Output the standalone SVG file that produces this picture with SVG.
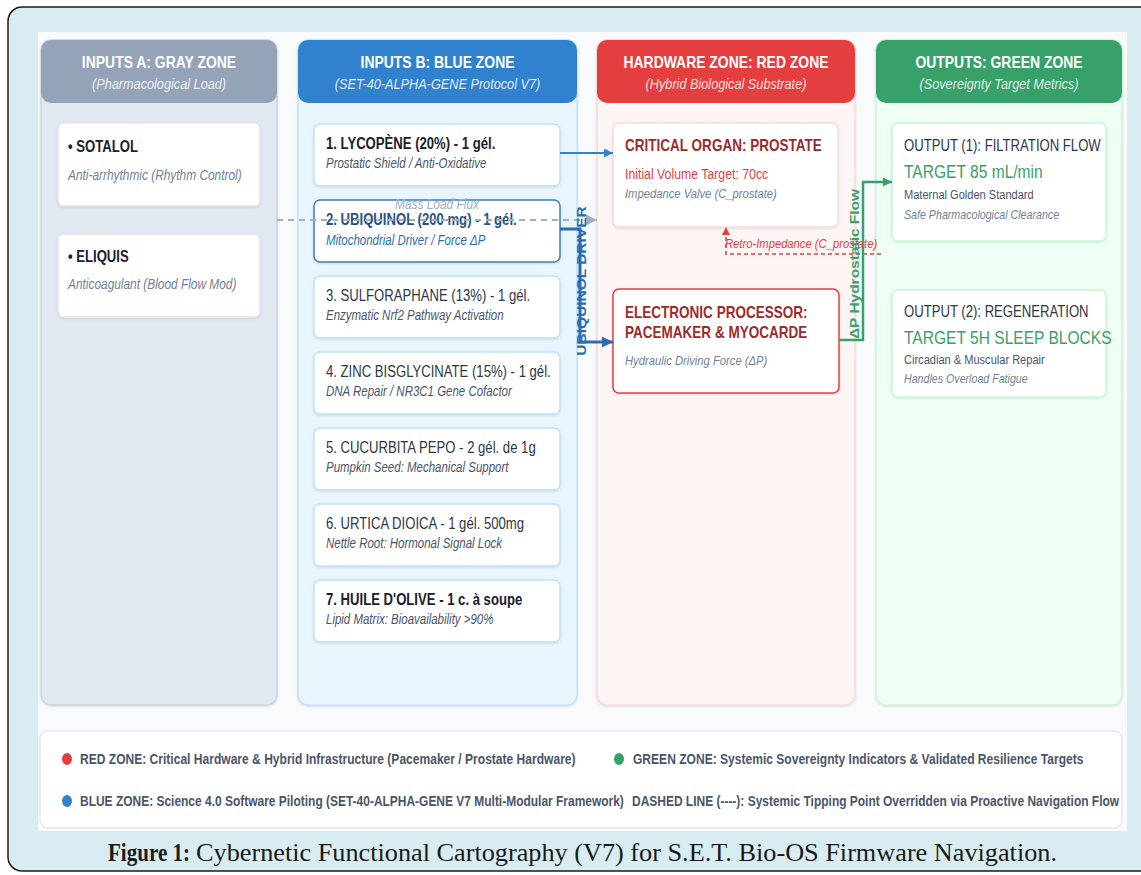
<svg xmlns="http://www.w3.org/2000/svg" width="1141" height="875" viewBox="0 0 1141 875">
<defs>
<style>
text { font-family: "Liberation Sans", Arial, Helvetica, sans-serif; }
.hd { font-weight: bold; font-size: 17px; fill: #ffffff; text-anchor: middle; }
.hs { font-style: italic; font-size: 15.5px; fill: #ffffff; fill-opacity: 0.85; text-anchor: middle; }
.tb { font-weight: bold; font-size: 16px; fill: #1a202c; }
.tr { font-size: 16px; fill: #2d3748; }
.sub { font-style: italic; font-size: 14px; fill: #4a5568; }
.gsub { font-style: italic; font-size: 14.5px; fill: #718096; }
.node { fill: #ffffff; stroke-width: 1.5; }
.rt { font-weight: bold; font-size: 16.5px; fill: #9b2c2c; }
.rdet { font-style: italic; font-size: 13.7px; fill: #718096; }
.gt { font-size: 16px; fill: #2d3748; }
.gbig { font-size: 19px; fill: #38a169; }
.gd { font-size: 13.5px; fill: #4a5568; }
.gi { font-style: italic; font-size: 13px; fill: #718096; }
.leg { font-weight: bold; font-size: 14.7px; fill: #4a5568; }
.cap { font-family: "Liberation Serif", "Times New Roman", serif; font-size: 25px; fill: #1a1a1a; }
</style>
<filter id="sh" x="-5%" y="-5%" width="110%" height="115%">
<feDropShadow dx="0" dy="1" stdDeviation="1" flood-color="#000" flood-opacity="0.12"/>
</filter>
<marker id="aBlue" viewBox="0 0 10 10" refX="10" refY="5" markerWidth="9" markerHeight="9" markerUnits="userSpaceOnUse" orient="auto"><path d="M0,0 L10,5 L0,10 z" fill="#3182ce"/></marker>
<marker id="aBlue2" viewBox="0 0 10 10" refX="10" refY="5" markerWidth="11" markerHeight="11" markerUnits="userSpaceOnUse" orient="auto"><path d="M0,0 L10,5 L0,10 z" fill="#2b6cb0"/></marker>
<marker id="aGray" viewBox="0 0 10 10" refX="10" refY="5" markerWidth="11" markerHeight="12" markerUnits="userSpaceOnUse" orient="auto"><path d="M0,0 L10,5 L0,10 z" fill="#a0aec0"/></marker>
<marker id="aRed" viewBox="0 0 10 10" refX="10" refY="5" markerWidth="8" markerHeight="8" markerUnits="userSpaceOnUse" orient="auto"><path d="M0,0 L10,5 L0,10 z" fill="#e53e3e"/></marker>
<marker id="aGreen" viewBox="0 0 10 10" refX="10" refY="5" markerWidth="9" markerHeight="9" markerUnits="userSpaceOnUse" orient="auto"><path d="M0,0 L10,5 L0,10 z" fill="#38a169"/></marker>
</defs>

<!-- outer frame -->
<rect x="8" y="7" width="1150" height="864" rx="14" fill="#d8ecf1" stroke="#1a1a1a" stroke-width="1.5"/>
<rect x="38" y="32" width="1089" height="799" fill="#f8fafc"/>

<!-- columns -->
<g id="zone-gray">
<rect x="41" y="40" width="236" height="665" rx="10" fill="#e2e8f0" stroke="#cbd5e0" stroke-width="1.5" filter="url(#sh)"/>
<rect x="41" y="40" width="236" height="63" rx="10" fill="#94a3b8"/>
<text class="hd" transform="translate(159,68) scale(0.82,1)">INPUTS A: GRAY ZONE</text>
<text class="hs" transform="translate(159,89) scale(0.82,1)">(Pharmacological Load)</text>
</g>
<g id="zone-blue">
<rect x="298" y="40" width="279" height="665" rx="10" fill="#e9f5fd" stroke="#bee3f8" stroke-width="1.5" filter="url(#sh)"/>
<rect x="298" y="40" width="279" height="63" rx="10" fill="#3182ce"/>
<text class="hd" transform="translate(437.5,68) scale(0.82,1)">INPUTS B: BLUE ZONE</text>
<text class="hs" transform="translate(437.5,89) scale(0.82,1)">(SET-40-ALPHA-GENE Protocol V7)</text>
</g>
<g id="zone-red">
<rect x="597" y="40" width="258" height="665" rx="10" fill="#fff5f5" stroke="#fed7d7" stroke-width="1.5" filter="url(#sh)"/>
<rect x="597" y="40" width="258" height="63" rx="10" fill="#e53e3e"/>
<text class="hd" transform="translate(726,68) scale(0.82,1)">HARDWARE ZONE: RED ZONE</text>
<text class="hs" transform="translate(726,89) scale(0.82,1)">(Hybrid Biological Substrate)</text>
</g>
<g id="zone-green">
<rect x="876" y="40" width="246" height="665" rx="10" fill="#f0fff4" stroke="#c6f6d5" stroke-width="1.5" filter="url(#sh)"/>
<rect x="876" y="40" width="246" height="63" rx="10" fill="#38a169"/>
<text class="hd" transform="translate(999,68) scale(0.82,1)">OUTPUTS: GREEN ZONE</text>
<text class="hs" transform="translate(999,89) scale(0.82,1)">(Sovereignty Target Metrics)</text>
</g>

<!-- gray nodes -->
<g id="sotalol">
<rect class="node" x="58" y="123" width="202" height="83" rx="6" stroke="#e2e8f0" filter="url(#sh)"/>
<text class="tb" transform="translate(68,152) scale(0.82,1)">• SOTALOL</text>
<text class="gsub" transform="translate(68,180) scale(0.82,1)">Anti-arrhythmic (Rhythm Control)</text>
</g>
<g id="eliquis">
<rect class="node" x="58" y="234" width="202" height="83" rx="6" stroke="#e2e8f0" filter="url(#sh)"/>
<text class="tb" transform="translate(68,262) scale(0.82,1)">• ELIQUIS</text>
<text class="gsub" transform="translate(68,289) scale(0.82,1)">Anticoagulant (Blood Flow Mod)</text>
</g>

<!-- blue nodes -->
<g id="lycopene">
<rect class="node" x="314" y="124" width="246" height="62" rx="6" stroke="#bee3f8" filter="url(#sh)"/>
<text class="tb" transform="translate(326,149) scale(0.82,1)">1. LYCOPÈNE (20%) - 1 gél.</text>
<text class="sub" transform="translate(326,168) scale(0.82,1)">Prostatic Shield / Anti-Oxidative</text>
</g>
<g id="ubiquinol">
<rect class="node" x="314" y="200" width="246" height="62" rx="6" stroke="#3b7fc4" stroke-width="2" filter="url(#sh)"/>
<text class="tb" style="fill:#2c5282" transform="translate(326,225) scale(0.82,1)">2. UBIQUINOL (200 mg) - 1 gél.</text>
<text class="sub" style="fill:#2b6cb0" transform="translate(326,245) scale(0.82,1)">Mitochondrial Driver / Force ΔP</text>
</g>
<g id="sulforaphane">
<rect class="node" x="314" y="276" width="246" height="62" rx="6" stroke="#bee3f8" filter="url(#sh)"/>
<text class="tr" transform="translate(326,301) scale(0.82,1)">3. SULFORAPHANE (13%) - 1 gél.</text>
<text class="sub" transform="translate(326,320) scale(0.82,1)">Enzymatic Nrf2 Pathway Activation</text>
</g>
<g id="zinc">
<rect class="node" x="314" y="352" width="246" height="62" rx="6" stroke="#bee3f8" filter="url(#sh)"/>
<text class="tr" transform="translate(326,377) scale(0.82,1)">4. ZINC BISGLYCINATE (15%) - 1 gél.</text>
<text class="sub" transform="translate(326,396) scale(0.82,1)">DNA Repair / NR3C1 Gene Cofactor</text>
</g>
<g id="cucurbita">
<rect class="node" x="314" y="428" width="246" height="62" rx="6" stroke="#bee3f8" filter="url(#sh)"/>
<text class="tr" transform="translate(326,453) scale(0.82,1)">5. CUCURBITA PEPO - 2 gél. de 1g</text>
<text class="sub" transform="translate(326,472) scale(0.82,1)">Pumpkin Seed: Mechanical Support</text>
</g>
<g id="urtica">
<rect class="node" x="314" y="504" width="246" height="62" rx="6" stroke="#bee3f8" filter="url(#sh)"/>
<text class="tr" transform="translate(326,529) scale(0.82,1)">6. URTICA DIOICA - 1 gél. 500mg</text>
<text class="sub" transform="translate(326,548) scale(0.82,1)">Nettle Root: Hormonal Signal Lock</text>
</g>
<g id="olive">
<rect class="node" x="314" y="580" width="246" height="62" rx="6" stroke="#bee3f8" filter="url(#sh)"/>
<text class="tb" transform="translate(326,605) scale(0.82,1)">7. HUILE D'OLIVE - 1 c. à soupe</text>
<text class="sub" transform="translate(326,624) scale(0.82,1)">Lipid Matrix: Bioavailability &gt;90%</text>
</g>

<!-- red nodes -->
<g id="prostate">
<rect class="node" x="613" y="123" width="225" height="104" rx="6" stroke="#fed7d7" filter="url(#sh)"/>
<text class="rt" transform="translate(625,151) scale(0.82,1)">CRITICAL ORGAN: PROSTATE</text>
<text style="font-size:15px;fill:#e53e3e" transform="translate(625,179) scale(0.82,1)">Initial Volume Target: 70cc</text>
<text class="rdet" transform="translate(625,198) scale(0.82,1)">Impedance Valve (C_prostate)</text>
</g>
<g id="pacemaker">
<rect class="node" x="613" y="289" width="226" height="104" rx="6" stroke="#e53e3e" stroke-width="2" filter="url(#sh)"/>
<text class="rt" transform="translate(625,318) scale(0.82,1)">ELECTRONIC PROCESSOR:</text>
<text class="rt" transform="translate(625,338) scale(0.82,1)">PACEMAKER &amp; MYOCARDE</text>
<text class="rdet" transform="translate(625,365) scale(0.82,1)">Hydraulic Driving Force (ΔP)</text>
</g>

<!-- green nodes -->
<g id="output1">
<rect class="node" x="892" y="123" width="214" height="118" rx="6" stroke="#c6f6d5" filter="url(#sh)"/>
<text class="gt" transform="translate(904,151) scale(0.82,1)">OUTPUT (1): FILTRATION FLOW</text>
<text class="gbig" transform="translate(904,178) scale(0.82,1)">TARGET 85 mL/min</text>
<text class="gd" transform="translate(904,199) scale(0.82,1)">Maternal Golden Standard</text>
<text class="gi" transform="translate(904,219) scale(0.82,1)">Safe Pharmacological Clearance</text>
</g>
<g id="output2">
<rect class="node" x="892" y="290" width="214" height="107" rx="6" stroke="#c6f6d5" filter="url(#sh)"/>
<text class="gt" transform="translate(904,317) scale(0.82,1)">OUTPUT (2): REGENERATION</text>
<text class="gbig" transform="translate(904,344) scale(0.82,1)">TARGET 5H SLEEP BLOCKS</text>
<text class="gd" transform="translate(904,364) scale(0.82,1)">Circadian &amp; Muscular Repair</text>
<text class="gi" transform="translate(904,383) scale(0.82,1)">Handles Overload Fatigue</text>
</g>

<!-- connectors -->
<g id="connectors" fill="none">
<path d="M560,153 H613" stroke="#3182ce" stroke-width="2" marker-end="url(#aBlue)"/>
<path d="M277,220 H597" stroke="#a0aec0" stroke-width="2" stroke-dasharray="6 5" marker-end="url(#aGray)"/>
<path d="M560,229 H580 V342 H613" stroke="#2b6cb0" stroke-width="3" marker-end="url(#aBlue2)"/>
<path d="M881,254 H726 V227" stroke="#e53e3e" stroke-width="1.5" stroke-dasharray="4 3" marker-end="url(#aRed)"/>
<path d="M839,340 H863 V182 H892" stroke="#38a169" stroke-width="2.5" marker-end="url(#aGreen)"/>
<text style="font-style:italic;font-size:14.5px;fill:#a0aec0;text-anchor:middle" transform="translate(437,209) scale(0.82,1)">Mass Load Flux</text>
<text style="font-weight:bold;font-size:15.5px;fill:#2b6cb0;text-anchor:middle" transform="translate(586,281) scale(0.82,1) rotate(-90)">UBIQUINOL DRIVER</text>
<text style="font-style:italic;font-size:13.7px;fill:#e53e3e" transform="translate(725,248) scale(0.82,1)">Retro-Impedance (C_prostate)</text>
<text style="font-weight:bold;font-size:15.5px;fill:#38a169;text-anchor:middle" transform="translate(859,264) scale(0.82,1) rotate(-90)">ΔP Hydrostatic Flow</text>
</g>

<!-- legend -->
<g id="legend">
<rect x="40" y="731" width="1082" height="97" rx="8" fill="#ffffff" stroke="#e2e8f0" stroke-width="1.5"/>
<ellipse cx="67" cy="759" rx="5" ry="6" fill="#e53e3e"/>
<text class="leg" transform="translate(80,764) scale(0.82,1)">RED ZONE: Critical Hardware &amp; Hybrid Infrastructure (Pacemaker / Prostate Hardware)</text>
<ellipse cx="67" cy="801" rx="5" ry="6" fill="#3182ce"/>
<text class="leg" style="font-size:14.6px" transform="translate(80,806) scale(0.82,1)">BLUE ZONE: Science 4.0 Software Piloting (SET-40-ALPHA-GENE V7 Multi-Modular Framework)</text>
<ellipse cx="619" cy="759" rx="5" ry="6" fill="#38a169"/>
<text class="leg" transform="translate(633,764) scale(0.82,1)">GREEN ZONE: Systemic Sovereignty Indicators &amp; Validated Resilience Targets</text>
<text class="leg" style="font-size:14.6px" transform="translate(632,806) scale(0.82,1)">DASHED LINE (----): Systemic Tipping Point Overridden via Proactive Navigation Flow</text>
</g>

<!-- caption -->
<g id="caption">
<text class="cap" style="font-weight:bold" x="108" y="861" textLength="82" lengthAdjust="spacingAndGlyphs">Figure 1:</text>
<text class="cap" x="196" y="861" textLength="861" lengthAdjust="spacingAndGlyphs">Cybernetic Functional Cartography (V7) for S.E.T. Bio-OS Firmware Navigation.</text>
</g>
</svg>
